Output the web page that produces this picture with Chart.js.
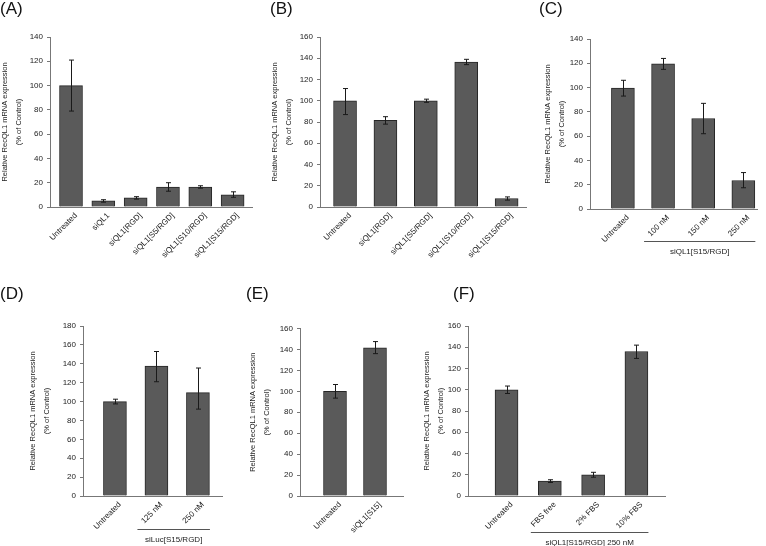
<!DOCTYPE html>
<html>
<head>
<meta charset="utf-8">
<script src="https://cdn.jsdelivr.net/npm/chart.js@4"></script>
<style>
  body { margin: 0; background: #fff; }
  #wrap { position: relative; width: 766px; height: 546px; font-family: 'Liberation Sans', Arial, sans-serif; }
  #wrap canvas { position: absolute; left: 0; top: 0; }
  .tag { position: absolute; font-size: 17px; line-height: 17px; color: #111; }
</style>
</head>
<body>
<div id="wrap">
  <canvas id="chartA" width="766" height="546"></canvas>
  <canvas id="chartB" width="766" height="546"></canvas>
  <canvas id="chartC" width="766" height="546"></canvas>
  <canvas id="chartD" width="766" height="546"></canvas>
  <canvas id="chartE" width="766" height="546"></canvas>
  <canvas id="chartF" width="766" height="546"></canvas>
  <div class="tag" style="left:0;top:0">(A)</div>
  <div class="tag" style="left:270px;top:0">(B)</div>
  <div class="tag" style="left:539px;top:0">(C)</div>
  <div class="tag" style="left:0;top:285px">(D)</div>
  <div class="tag" style="left:246px;top:285px">(E)</div>
  <div class="tag" style="left:453px;top:285px">(F)</div>
</div>
<script>
// data (bar height, top and bottom of the error bar)
const catsA = ['Untreated', 'siQL1', 'siQL1[RGD]', 'siQL1[S5/RGD]', 'siQL1[S10/RGD]', 'siQL1[S15/RGD]']
const valsA = [100, 5, 7.5, 16.5, 16.5, 10]
const hiA = [121, 6, 8.5, 20, 17.5, 12.5]
const loA = [79, 4, 6.5, 13, 15.5, 8]

const catsB = ['Untreated', 'siQL1[RGD]', 'siQL1[S5/RGD]', 'siQL1[S10/RGD]', 'siQL1[S15/RGD]']
const valsB = [100, 81.5, 100, 136.5, 8]
const hiB = [111.5, 85, 101.5, 139, 9.5]
const loB = [87, 78, 98.5, 134, 6.5]

const catsC = ['Untreated', '100 nM', '150 nM', '250 nM']
const valsC = [99.5, 119.5, 74.5, 23.5]
const hiC = [106, 124, 87, 30]
const loC = [93, 115, 62, 17.5]

const catsD = ['Untreated', '125 nM', '250 nM']
const valsD = [100, 137.5, 109.5]
const hiD = [102.5, 153, 135.5]
const loD = [97.5, 121, 92]

const catsE = ['Untreated', 'siQL1[S15]']
const valsE = [100, 141.5]
const hiE = [106.5, 147.5]
const loE = [93.5, 136]

const catsF = ['Untreated', 'FBS free', '2% FBS', '10% FBS']
const valsF = [100, 14, 20, 136]
const hiF = [103.5, 15.3, 22.3, 142]
const loF = [96.5, 12.7, 17.7, 129.5]

const groupC = 'siQL1[S15/RGD]'
const groupD = 'siLuc[S15/RGD]'
const groupF = 'siQL1[S15/RGD] 250 nM'

const yTitle = ['Relative RecQL1 mRNA expression', '(% of Control)']
const family = "'Liberation Sans', Arial, sans-serif"

// error bars + the bracket line under grouped doses
const extras = {
  id: 'extras',
  afterDatasetsDraw(chart, args, opts) {
    const { ctx, scales: { x, y } } = chart
    ctx.save()
    ctx.strokeStyle = '#1a1a1a'
    ctx.lineWidth = 1
    opts.hi.forEach((h, i) => {
      const px = Math.round(x.getPixelForValue(i)) + 0.5
      const top = y.getPixelForValue(h)
      const bot = y.getPixelForValue(opts.lo[i])
      ctx.beginPath()
      ctx.moveTo(px, top); ctx.lineTo(px, bot)
      ctx.moveTo(px - 2.5, top); ctx.lineTo(px + 2.5, top)
      ctx.moveTo(px - 2.5, bot); ctx.lineTo(px + 2.5, bot)
      ctx.stroke()
    })
    const g = opts.group
    if (g) {
      const x0 = x.getPixelForValue(g.from) - 19
      const x1 = x.getPixelForValue(g.to) + 12
      const ly = Math.round(y.bottom + g.gap) + 0.5
      ctx.strokeStyle = '#555'
      ctx.beginPath()
      ctx.moveTo(x0, ly); ctx.lineTo(x1, ly)
      ctx.stroke()
      ctx.fillStyle = '#222'
      ctx.font = '8px ' + family
      ctx.textAlign = 'center'
      ctx.textBaseline = 'middle'
      ctx.fillText(g.text, (x0 + x1) / 2, ly + 10.5)
    }
    ctx.restore()
  }
}

function makeChart(id, cats, vals, hi, lo, box, group) {
  return new Chart(document.getElementById(id), {
    type: 'bar',
    data: {
      datasets: [{
        data: vals.map((v, i) => ({ x: i, y: v })),
        backgroundColor: '#5a5a5a',
        borderColor: '#262626',
        borderWidth: 1,
        barThickness: 23
      }]
    },
    options: {
      responsive: false,
      animation: false,
      devicePixelRatio: 1,
      layout: {
        padding: { left: box.left - box.titleW, right: 766 - box.right, top: box.top, bottom: 546 - box.bottom - 60 }
      },
      plugins: {
        legend: { display: false },
        tooltip: { enabled: false },
        extras: { hi, lo, group }
      },
      scales: {
        x: {
          type: 'linear',
          offset: false,
          min: box.xmin,
          max: box.xmax,
          afterFit: s => { s.height = 60 },
          grid: { display: false },
          border: { color: '#777' },
          ticks: {
            stepSize: 1, includeBounds: false, autoSkip: false,
            minRotation: 45, maxRotation: 45, padding: -4, labelOffset: 5,
            color: '#222', font: { family, size: 8 },
            callback: v => Number.isInteger(v) ? cats[v] : ''
          }
        },
        y: {
          min: 0,
          max: box.ymax,
          afterFit: s => { s.width = box.titleW },
          grid: { drawOnChartArea: false, tickLength: 3, color: '#777' },
          border: { color: '#777' },
          ticks: { stepSize: 20, padding: 4, color: '#222', font: { family, size: 8 } },
          title: { display: true, text: yTitle, color: '#222', padding: 0, font: { family, size: 7.5, lineHeight: '14px' } }
        }
      }
    },
    plugins: [extras]
  })
}

makeChart('chartA', catsA, valsA, hiA, loA,
  { left: 50, right: 252, top: 37, bottom: 207, ymax: 140, xmin: -0.65, xmax: 5.6, titleW: 52.5 })
makeChart('chartB', catsB, valsB, hiB, loB,
  { left: 320, right: 526, top: 37, bottom: 207, ymax: 160, xmin: -0.62, xmax: 4.48, titleW: 52 })
makeChart('chartC', catsC, valsC, hiC, loC,
  { left: 590, right: 757, top: 39, bottom: 209, ymax: 140, xmin: -0.82, xmax: 3.34, titleW: 49.5 },
  { text: groupC, from: 1, to: 3, gap: 32 })
makeChart('chartD', catsD, valsD, hiD, loD,
  { left: 83, right: 222, top: 326, bottom: 496, ymax: 180, xmin: -0.77, xmax: 2.58, titleW: 57.5 },
  { text: groupD, from: 1, to: 2, gap: 33 })
makeChart('chartE', catsE, valsE, hiE, loE,
  { left: 300, right: 403, top: 328.5, bottom: 496, ymax: 160, xmin: -0.875, xmax: 1.7, titleW: 54.5 })
makeChart('chartF', catsF, valsF, hiF, loF,
  { left: 468, right: 665, top: 326, bottom: 496, ymax: 160, xmin: -0.89, xmax: 3.66, titleW: 48 },
  { text: groupF, from: 1, to: 3, gap: 36 })
</script>
</body>
</html>
